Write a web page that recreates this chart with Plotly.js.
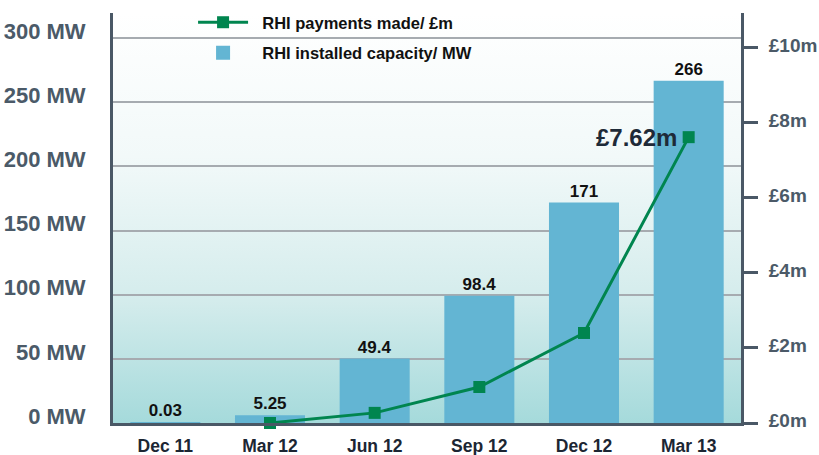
<!DOCTYPE html>
<html>
<head>
<meta charset="utf-8">
<script src="https://cdn.plot.ly/plotly-3.0.1.min.js"></script>
<style>
  html, body { margin: 0; padding: 0; background: #ffffff; }
  #chart { width: 819px; height: 455px; }
</style>
</head>
<body>
<div id="chart"></div>
<script>
// ---- data ----
const quarters = ["Dec 11", "Mar 12", "Jun 12", "Sep 12", "Dec 12", "Mar 13"];
const capacityMW = [0.03, 5.25, 49.4, 98.4, 171, 266];
const paymentQuarters = ["Mar 12", "Jun 12", "Sep 12", "Dec 12", "Mar 13"];
const paymentsM = [0, 0.27, 0.96, 2.4, 7.62];
const leftTickVals = [0, 50, 100, 150, 200, 250, 300];
const leftTickText = ["0 MW", "50 MW", "100 MW", "150 MW", "200 MW", "250 MW", "300 MW"];
const rightTickVals = [0, 2, 4, 6, 8, 10];
const rightTickText = ["£0m", "£2m", "£4m", "£6m", "£8m", "£10m"];
const capacityName = "RHI installed capacity/ MW";
const paymentsName = "RHI payments made/ £m";
const lastPaymentLabel = "£7.62m";

// ---- style ----
const FONT = "Liberation Sans, Arial, sans-serif";
const axisCol = "#4a5866";
const barCol = "#63b5d3";
const lineCol = "#00854f";
const PAD = "\u00a0\u00a0";

const svg = '<svg xmlns="http://www.w3.org/2000/svg" width="100" height="100" preserveAspectRatio="none">' +
  '<defs><linearGradient id="g" x1="0" y1="0" x2="0" y2="1">' +
  '<stop offset="0" stop-color="#ffffff"/>' +
  '<stop offset="0.35" stop-color="#f2f9f9"/>' +
  '<stop offset="0.7" stop-color="#d4ecec"/>' +
  '<stop offset="1" stop-color="#a5dadb"/>' +
  '</linearGradient></defs><rect width="100" height="100" fill="url(#g)"/></svg>';
const bgSrc = 'data:image/svg+xml;charset=utf-8,' + encodeURIComponent(svg);

const traces = [
  {
    type: "scatter",
    mode: "lines+markers",
    name: PAD + paymentsName,
    legendgroup: "a",
    x: paymentQuarters,
    y: paymentsM,
    yaxis: "y2",
    line: { color: lineCol, width: 3 },
    marker: { color: lineCol, symbol: "square", size: 12 },
    cliponaxis: false,
    hoverinfo: "skip"
  },
  {
    type: "bar",
    name: PAD + capacityName,
    legendgroup: "b",
    x: quarters,
    y: capacityMW,
    width: 0.65,
    marker: { color: barCol, line: { color: barCol, width: 2 } },
    text: capacityMW.map(v => String(v)),
    textposition: "outside",
    textfont: { family: FONT, size: 17, color: "#111111", weight: "bold" },
    constraintext: "none",
    cliponaxis: false,
    hoverinfo: "skip"
  }
];

const layout = {
  width: 819,
  height: 455,
  margin: { l: 113, r: 78, t: 13, b: 32, pad: 0, autoexpand: false },
  paper_bgcolor: "#ffffff",
  plot_bgcolor: "rgba(0,0,0,0)",
  font: { family: FONT },
  showlegend: true,
  legend: {
    x: 0.1275, xanchor: "left",
    y: 1.0195, yanchor: "top",
    bgcolor: "rgba(0,0,0,0)",
    font: { family: FONT, size: 16.5, color: "#111111", weight: "bold" },
    traceorder: "grouped",
    tracegroupgap: 6,
    itemwidth: 50
  },
  xaxis: {
    type: "category",
    categoryorder: "array",
    categoryarray: quarters,
    showline: true, linecolor: axisCol, linewidth: 3,
    ticks: "",
    tickfont: { family: FONT, size: 17.5, color: "#1c2633", weight: "bold" },
    ticklabelstandoff: 5,
    showgrid: false, zeroline: false,
    fixedrange: true
  },
  yaxis: {
    range: [0, 319.5],
    tickvals: leftTickVals,
    ticktext: leftTickText,
    tickfont: { family: FONT, size: 22, color: "#4b5a68", weight: "bold" },
    ticks: "",
    ticklabelstandoff: 20,
    ticklabelshift: -7,
    showline: true, linecolor: axisCol, linewidth: 3,
    showgrid: true, gridcolor: "#a6abb0", gridwidth: 2,
    zeroline: false,
    fixedrange: true
  },
  yaxis2: {
    overlaying: "y",
    side: "right",
    range: [0, 10.93],
    tickvals: rightTickVals,
    ticktext: rightTickText,
    tickfont: { family: FONT, size: 19, color: "#4b5a68", weight: "bold" },
    ticks: "outside", ticklen: 14, tickwidth: 3, tickcolor: axisCol,
    ticklabelstandoff: 7,
    ticklabelshift: -3,
    showline: true, linecolor: axisCol, linewidth: 3,
    showgrid: false, zeroline: false,
    fixedrange: true
  },
  images: [{
    source: bgSrc,
    xref: "paper", yref: "paper",
    x: 0, y: 1, sizex: 1, sizey: 1,
    xanchor: "left", yanchor: "top",
    sizing: "stretch", layer: "below"
  }],
  annotations: [{
    xref: "x", yref: "y2",
    x: paymentQuarters[paymentQuarters.length - 1],
    y: paymentsM[paymentsM.length - 1],
    text: lastPaymentLabel,
    showarrow: false,
    xanchor: "right", yanchor: "middle",
    xshift: -10, yshift: 0,
    font: { family: FONT, size: 24, color: "#1e2a38", weight: "bold" }
  }]
};

Plotly.newPlot("chart", traces, layout, { staticPlot: true, displayModeBar: false });
</script>
</body>
</html>
